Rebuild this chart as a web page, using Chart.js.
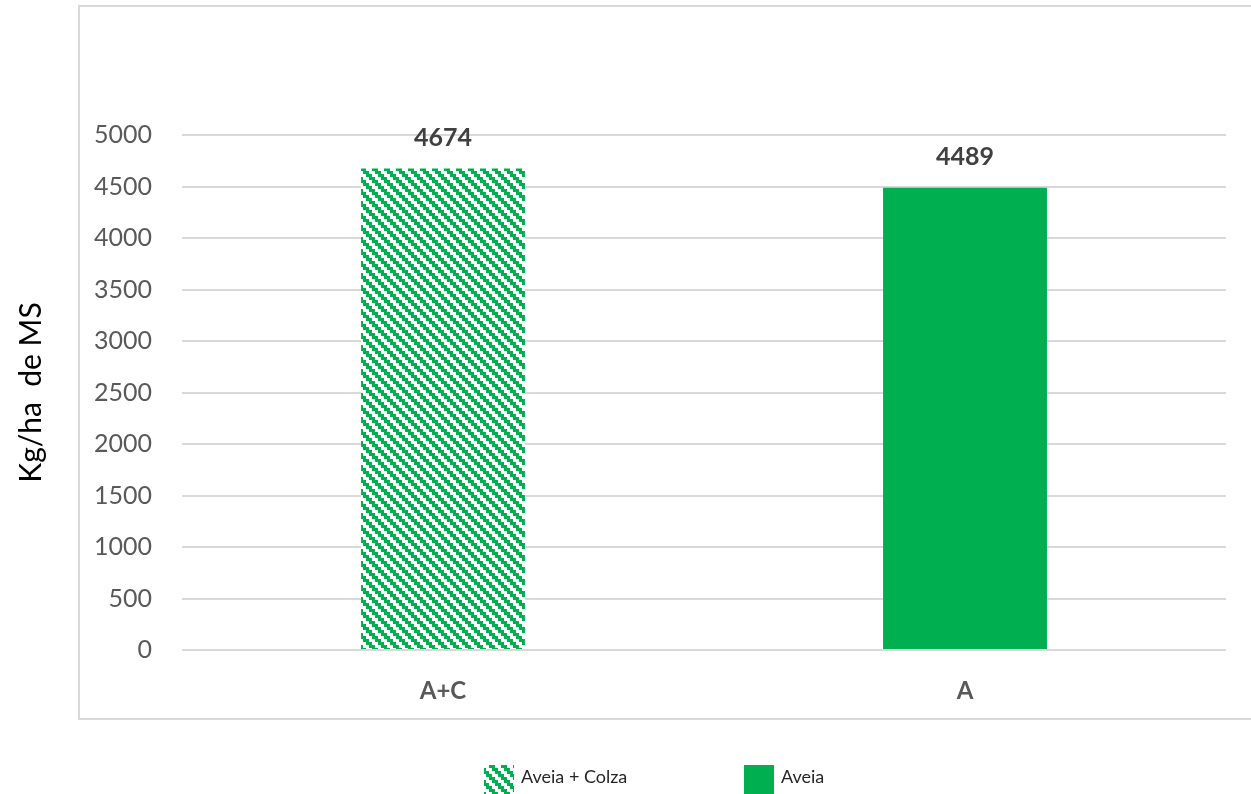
<!DOCTYPE html>
<html>
<head>
<meta charset="utf-8">
<title>Produção de MS</title>
<script src="https://cdn.jsdelivr.net/npm/chart.js@4.4.1/dist/chart.umd.min.js"></script>
<style>
    html, body { margin: 0; padding: 0; background: #fff; }
    #wrap { width: 1251px; height: 794px; position: relative; }
</style>
</head>
<body>
<div id="wrap"><canvas id="chart"></canvas></div>
<script>
// Data
const categories = ['A+C', 'A'];
const values = [4674, 4489];
const seriesNames = ['Aveia + Colza', 'Aveia'];
const axisTitle = 'Kg/ha  de MS';

const GREEN = '#00B050';
const FONT = 'Lato, "Open Sans", sans-serif';

const canvas = document.getElementById('chart');
const ctx = canvas.getContext('2d');

// Striped fill (downward diagonal, stair-stepped)
function makeStripes() {
    const size = 12;
    const tile = document.createElement('canvas');
    tile.width = size;
    tile.height = size;
    const t = tile.getContext('2d');
    t.fillStyle = '#fff';
    t.fillRect(0, 0, size, size);
    t.fillStyle = GREEN;
    for (let y = 0; y < size; y++) {
        const shift = Math.floor(y / 3) * 3;
        for (let x = 0; x < size; x++) {
            if (((x - shift) % size + size) % size < 6) t.fillRect(x, y, 1, 1);
        }
    }
    return ctx.createPattern(tile, 'repeat');
}

const stripes = makeStripes();
const fills = [stripes, GREEN];

// Frame around the plot
const framePlugin = {
    id: 'frame',
    beforeDraw(chart) {
        const c = chart.ctx;
        c.save();
        c.strokeStyle = '#d9d9d9';
        c.lineWidth = 2;
        c.strokeRect(79, 6, 1200, 713);
        c.restore();
    }
};

// Value labels above bars
const valueLabels = {
    id: 'valueLabels',
    afterDatasetsDraw(chart) {
        const c = chart.ctx;
        const meta = chart.getDatasetMeta(0);
        c.save();
        c.font = 'bold 25px ' + FONT;
        c.fillStyle = '#404040';
        c.textAlign = 'center';
        c.textBaseline = 'middle';
        meta.data.forEach((bar, i) => {
            c.fillText(String(values[i]), bar.x, bar.y - 31);
        });
        c.restore();
    }
};

// Legend row under the frame
const bottomLegend = {
    id: 'bottomLegend',
    afterDraw(chart) {
        const c = chart.ctx;
        const xs = [484, 744];
        c.save();
        c.font = '18px ' + FONT;
        c.textBaseline = 'middle';
        seriesNames.forEach((name, i) => {
            c.fillStyle = fills[i];
            c.fillRect(xs[i], 765, 30, 29);
            c.fillStyle = '#262626';
            c.fillText(name, xs[i] + 37, 777);
        });
        c.restore();
    }
};

const chart = new Chart(ctx, {
    type: 'bar',
    data: {
        labels: categories,
        datasets: [{
            label: 'Kg/ha de MS',
            data: values,
            backgroundColor: fills,
            borderWidth: 0,
            categoryPercentage: 1,
            barPercentage: 0.314
        }]
    },
    options: {
        responsive: true,
        maintainAspectRatio: false,
        animation: false,
        devicePixelRatio: 1,
        layout: {
            padding: { left: 0, right: 25, top: 135, bottom: 0 }
        },
        scales: {
            x: {
                grid: { display: false, drawTicks: false },
                border: { display: false },
                ticks: {
                    color: '#595959',
                    padding: 27,
                    font: { family: FONT, size: 24, weight: 'bold' }
                },
                afterFit(scale) { scale.height = 144; }
            },
            y: {
                min: 0,
                max: 5000,
                grid: { color: '#d9d9d9', lineWidth: 2, drawTicks: false },
                border: { display: false },
                ticks: {
                    stepSize: 500,
                    color: '#595959',
                    padding: 30,
                    font: { family: FONT, size: 25 },
                    callback: (v) => String(v)
                },
                title: {
                    display: true,
                    text: axisTitle,
                    color: '#000',
                    font: { family: FONT, size: 30 },
                    padding: { top: 13 }
                },
                afterFit(scale) { scale.width = 182; }
            }
        },
        plugins: {
            legend: { display: false },
            tooltip: { enabled: false }
        }
    },
    plugins: [framePlugin, valueLabels, bottomLegend]
});
</script>
</body>
</html>
